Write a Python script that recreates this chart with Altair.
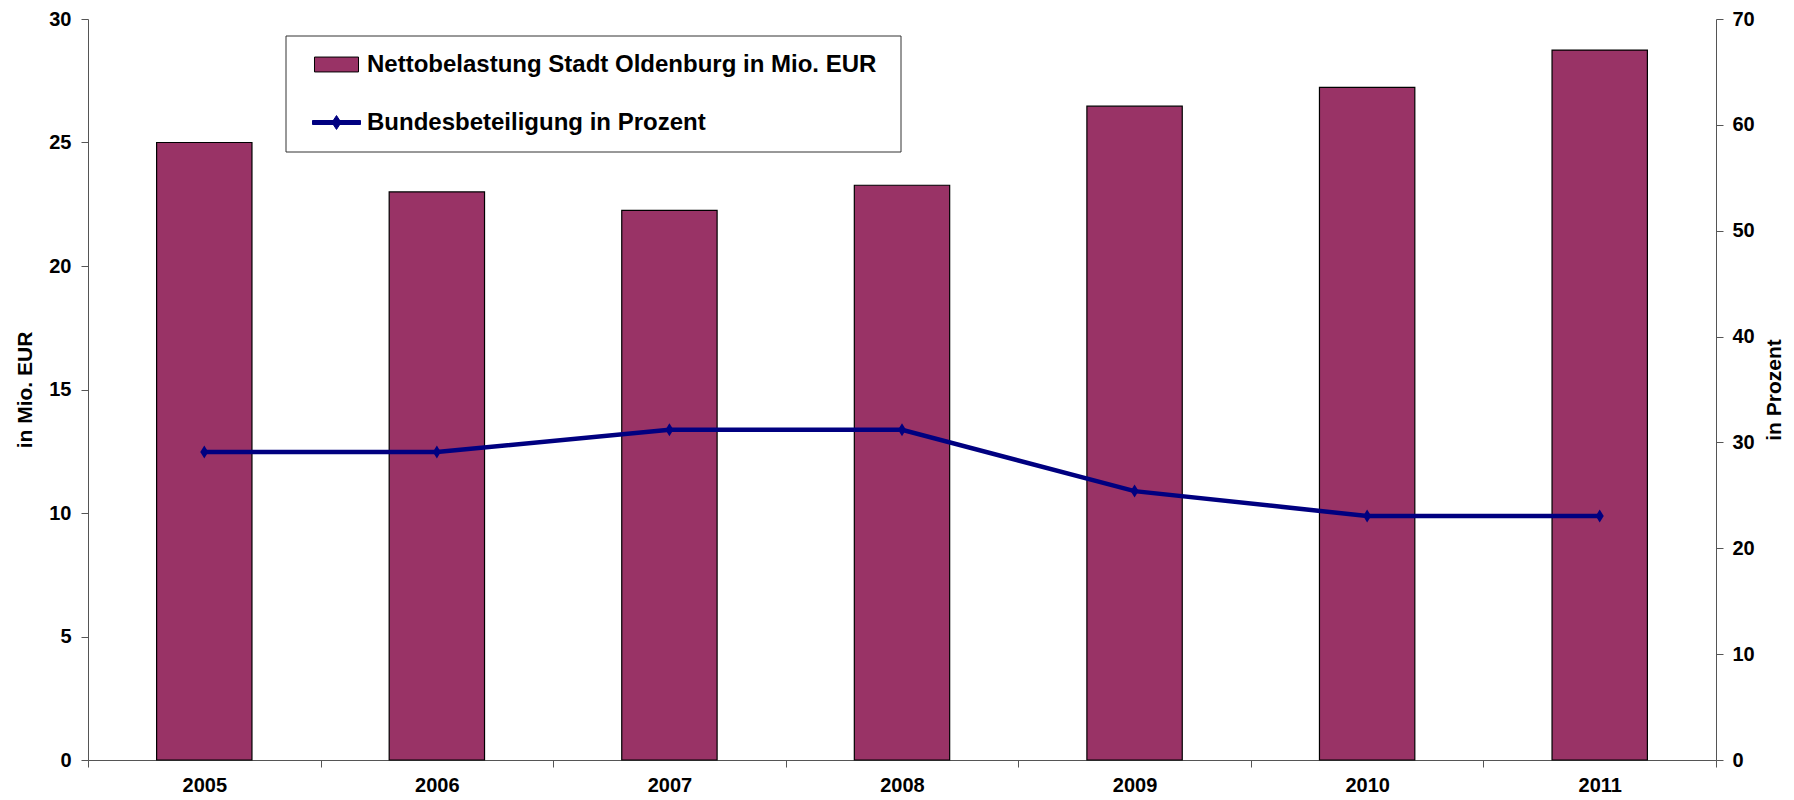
import altair as alt
import pandas as pd

years = ["2005", "2006", "2007", "2008", "2009", "2010", "2011"]
netto = [25.0, 23.0, 22.25, 23.27, 26.47, 27.23, 28.74]
bund = [29.1, 29.1, 31.2, 31.2, 25.4, 23.05, 23.05]
series_bar = "Nettobelastung Stadt Oldenburg in Mio. EUR"
series_line = "Bundesbeteiligung in Prozent"
left_ticks = [0, 5, 10, 15, 20, 25, 30]
right_ticks = [0, 10, 20, 30, 40, 50, 60, 70]

bars_df = pd.DataFrame({"Jahr": years, "Wert": netto, "ReiheA": series_bar})
line_df = pd.DataFrame({"Jahr": years, "Wert": bund, "ReiheB": series_line})
box_df = pd.DataFrame({"k": [0]})

FONT = "Liberation Sans"
PLUM = "#993366"
NAVY = "#000080"
AX = "#555555"

BAR_SHAPE = "M-0.917,-0.31H0.917V0.31H-0.917Z"
LINE_SHAPE = "M-1,-0.083H1V0.083H-1Z M0,-0.29L0.19,0L0,0.29L-0.19,0Z"
DIAMOND = "M0,-1L0.62,0L0,1L-0.62,0Z"


def make_legend(y, shape, fill, stroke):
    return alt.Legend(
        title=None,
        orient="none",
        legendX=224,
        legendY=y,
        padding=0,
        labelFont=FONT,
        labelFontSize=24,
        labelFontWeight="bold",
        labelColor="black",
        labelLimit=800,
        labelOffset=6,
        symbolSize=2304,
        symbolType=shape,
        symbolFillColor=fill,
        symbolStrokeColor=stroke,
        symbolStrokeWidth=1,
        symbolOpacity=1,
    )


x_enc = alt.X(
    "Jahr:N",
    sort=years,
    scale=alt.Scale(paddingInner=0, paddingOuter=0),
    axis=alt.Axis(
        title=None, labelAngle=0, tickBand="extent", grid=False,
        labelFont=FONT, labelFontSize=20, labelFontWeight="bold", labelColor="black",
        tickSize=7, tickColor=AX, domainColor=AX, labelPadding=8,
    ),
)

bars = alt.Chart(bars_df).mark_bar(
    width=alt.RelativeBandSize(0.41), stroke="black", strokeWidth=1.2, opacity=1
).encode(
    x=x_enc,
    y=alt.Y(
        "Wert:Q",
        scale=alt.Scale(domain=[0, 30], nice=False),
        axis=alt.Axis(
            title="in Mio. EUR", values=left_ticks, grid=False,
            labelFont=FONT, labelFontSize=20, labelFontWeight="bold", labelColor="black",
            tickSize=7, tickColor=AX, domainColor=AX, labelPadding=10,
            titleFont=FONT, titleFontSize=21, titleFontWeight="bold", titleColor="black",
            titleAngle=270, titleX=-63, titleY=370.5, titleAlign="center", titleBaseline="middle",
        ),
    ),
    fill=alt.Fill(
        "ReiheA:N",
        scale=alt.Scale(domain=[series_bar], range=[PLUM]),
        legend=make_legend(21, BAR_SHAPE, PLUM, "black"),
    ),
)

y_right = alt.Y(
    "Wert:Q",
    scale=alt.Scale(domain=[0, 70], nice=False),
    axis=alt.Axis(
        orient="right", title="in Prozent", values=right_ticks, grid=False,
        labelFont=FONT, labelFontSize=20, labelFontWeight="bold", labelColor="black",
        tickSize=7, tickColor=AX, domainColor=AX, labelPadding=9,
        titleFont=FONT, titleFontSize=21, titleFontWeight="bold", titleColor="black",
        titleAngle=270, titleX=58, titleY=370.5, titleAlign="center", titleBaseline="middle",
    ),
)

line = alt.Chart(line_df).mark_line(strokeWidth=4.5).encode(
    x=x_enc,
    y=y_right,
    stroke=alt.Stroke(
        "ReiheB:N",
        scale=alt.Scale(domain=[series_line], range=[NAVY]),
        legend=make_legend(79, LINE_SHAPE, NAVY, NAVY),
    ),
)

points = alt.Chart(line_df).mark_point(
    shape=DIAMOND, size=169, filled=True, opacity=1, color=NAVY
).encode(
    x=x_enc,
    y=y_right,
)

box = alt.Chart(box_df).mark_rect(fill="white", stroke="#333333", strokeWidth=1).encode(
    x=alt.value(198), x2=alt.value(813), y=alt.value(17), y2=alt.value(133)
)

chart = alt.layer(bars, box, alt.layer(line, points)).resolve_scale(y="independent").properties(
    width=1628,
    height=741,
    autosize=alt.AutoSizeParams(type="none"),
    padding={"left": 80, "top": 11, "right": 68, "bottom": 38},
).configure_view(stroke=None)

chart.save("out.html", embed_options={"renderer": "svg", "actions": False})
